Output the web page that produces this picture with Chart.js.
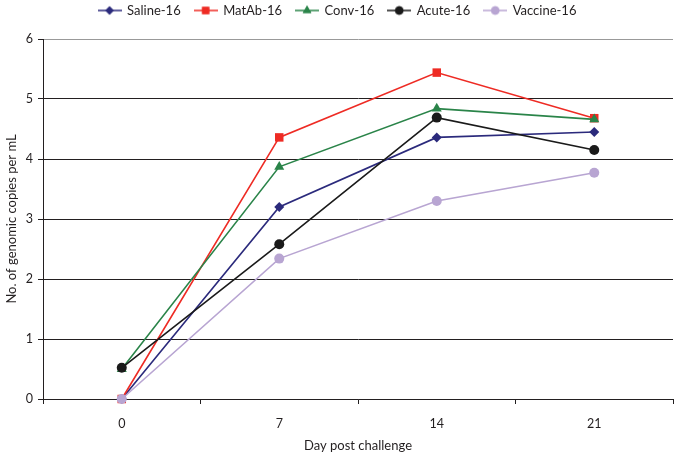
<!DOCTYPE html>
<html>
<head>
<meta charset="utf-8">
<script src="https://cdn.jsdelivr.net/npm/chart.js@4/dist/chart.umd.min.js"></script>
<style>
html,body{margin:0;padding:0;background:#fff;}
#wrap{width:679px;height:458px;position:relative;}
</style>
</head>
<body>
<div id="wrap"><canvas id="c" width="679" height="458"></canvas></div>
<script>
const days = ['0', '7', '14', '21'];
const seriesNames = ['Saline-16', 'MatAb-16', 'Conv-16', 'Acute-16', 'Vaccine-16'];
const saline = [0.0, 3.20, 4.36, 4.45];
const matab = [0.0, 4.36, 5.44, 4.68];
const conv = [0.50, 3.87, 4.84, 4.66];
const acute = [0.52, 2.58, 4.69, 4.15];
const vaccine = [0.0, 2.34, 3.30, 3.77];
const yTicks = [0, 1, 2, 3, 4, 5, 6];

const colors = ['#2b2a7c', '#ee2b24', '#2a8449', '#1a1a1a', '#b8a5d2'];
const styles = ['rectRot', 'rect', 'triangle', 'circle', 'circle'];
const radii = [5, 6, 5.8, 5, 5];
const values = [saline, matab, conv, acute, vaccine];
const FONT = 'Lato, "Open Sans", sans-serif';

function legendIcon(i) {
  const cv = document.createElement('canvas');
  cv.width = 24; cv.height = 12;
  const g = cv.getContext('2d');
  g.strokeStyle = colors[i]; g.lineWidth = 1.5;
  g.beginPath(); g.moveTo(0, 6); g.lineTo(24, 6); g.stroke();
  g.fillStyle = colors[i];
  Chart.helpers.drawPoint(g, {pointStyle: styles[i], radius: radii[i] * 0.85, borderWidth: 0}, 12, 6);
  g.fill();
  return cv;
}

const datasets = seriesNames.map((name, i) => ({
  label: name,
  data: values[i],
  borderColor: colors[i],
  backgroundColor: colors[i],
  pointBackgroundColor: colors[i],
  pointBorderColor: colors[i],
  pointStyle: styles[i],
  pointRadius: radii[i],
  pointBorderWidth: 0,
  borderWidth: 1.6,
  tension: 0,
  clip: false,
  order: 5 - i
}));

const legendFix = {
  id: 'legendFix',
  afterInit(chart) {
    const lg = chart.legend;
    if (lg) {
      const origFit = lg.fit;
      lg.fit = function () { origFit.call(this); this.height = 39; };
      const origDraw = lg.draw;
      lg.draw = function () {
        const c = this.ctx;
        c.save(); c.translate(0, -10);
        origDraw.call(this);
        c.restore();
      };
    }
  }
};

new Chart(document.getElementById('c'), {
  type: 'line',
  data: { labels: days, datasets },
  plugins: [legendFix],
  options: {
    responsive: false,
    animation: false,
    devicePixelRatio: 1,
    layout: { padding: { left: 0, right: 4, top: 0, bottom: 0 } },
    plugins: {
      tooltip: { enabled: false },
      legend: {
        display: true,
        position: 'top',
        labels: {
          font: { family: FONT, size: 13 },
          color: '#231f20',
          usePointStyle: true,
          pointStyleWidth: 22,
          boxHeight: 12,
          padding: 14,
          sort: (a, b) => a.datasetIndex - b.datasetIndex,
          generateLabels: (chart) => seriesNames.map((n, i) => ({
            text: n,
            datasetIndex: i,
            pointStyle: legendIcon(i),
            fillStyle: colors[i],
            strokeStyle: colors[i],
            lineWidth: 0,
            fontColor: '#231f20',
            hidden: false
          }))
        }
      }
    },
    scales: {
      x: {
        type: 'category',
        offset: true,
        afterFit: (s) => { s.height = 59; },
        grid: {
          offset: true,
          drawOnChartArea: true,
          color: (ctx) => ctx.index === days.length ? '#444' : 'rgba(0,0,0,0)',
          tickColor: '#231f20',
          tickLength: 5,
          lineWidth: 1
        },
        border: { display: true, color: '#231f20', width: 1 },
        ticks: { font: { family: FONT, size: 12.5 }, color: '#231f20', padding: 12 },
        title: { display: true, text: 'Day post challenge', font: { family: FONT, size: 13 }, color: '#231f20', padding: { top: 4 } }
      },
      y: {
        min: 0, max: 6,
        afterFit: (s) => { s.width = 43; },
        afterBuildTicks: (s) => { s.ticks = yTicks.map(v => ({ value: v })); },
        grid: {
          color: (ctx) => ctx.tick && ctx.tick.value === 6 ? '#999' : '#231f20',
          tickColor: '#231f20',
          tickLength: 5,
          lineWidth: 1
        },
        border: { display: true, color: '#231f20', width: 1 },
        ticks: { font: { family: FONT, size: 12.5 }, color: '#231f20', padding: 5 },
        title: { display: true, text: 'No. of genomic copies per mL', font: { family: FONT, size: 13 }, color: '#231f20', padding: { bottom: 2 } }
      }
    }
  }
});
</script>
</body>
</html>
